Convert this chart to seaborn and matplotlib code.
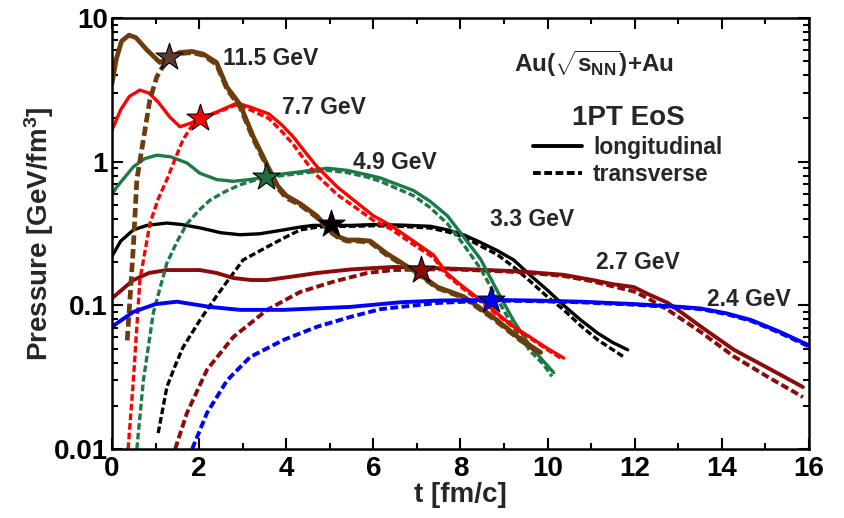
import matplotlib
matplotlib.use("Agg")
import numpy as np
import pandas as pd
import seaborn as sns
import matplotlib.pyplot as plt
from matplotlib.lines import Line2D
from matplotlib.ticker import MultipleLocator, LogLocator, FixedLocator, FixedFormatter, NullFormatter

# ---------------- data ----------------
# 11.5 GeV
t_115_L = [0, 0.1, 0.22, 0.39, 0.55, 0.8, 1.1, 1.31, 1.55, 1.84, 2.1, 2.4, 2.64, 2.94, 3.24, 3.56, 3.8, 4.0,
           4.32, 4.7, 5.01, 5.2, 5.4, 5.65, 5.93, 6.3, 6.62, 7.08, 7.47, 8.07, 8.7, 9.38, 9.84]
p_115_L = [3.5, 5.2, 6.9, 7.6, 7.3, 6.0, 4.9, 5.3, 5.75, 5.85, 5.6, 4.9, 3.3, 2.5, 1.5, 0.95, 0.68, 0.58,
           0.51, 0.42, 0.33, 0.3, 0.285, 0.285, 0.28, 0.23, 0.2, 0.163, 0.134, 0.115, 0.085, 0.058, 0.047]
t_115_T = [0.35, 0.49, 0.57, 0.72, 0.87, 1.03, 1.15, 1.31, 1.55, 1.84, 2.1, 2.4, 2.64, 2.94, 3.24, 3.56, 3.8,
           4.0, 4.32, 4.7, 5.01, 5.2, 5.4, 5.65, 5.93, 6.3, 6.62, 7.08, 7.47, 8.07, 8.7, 9.38, 9.84]
p_115_T = [0.057, 0.255, 0.75, 1.42, 2.7, 3.9, 4.5, 5.2, 5.65, 5.75, 5.5, 4.75, 3.2, 2.4, 1.45, 0.92, 0.66,
           0.56, 0.5, 0.41, 0.325, 0.295, 0.28, 0.28, 0.275, 0.225, 0.196, 0.16, 0.132, 0.113, 0.083, 0.057, 0.046]
# 7.7 GeV
t_77_L = [0, 0.2, 0.4, 0.64, 0.85, 1.06, 1.33, 1.56, 1.8, 2.02, 2.41, 2.87, 3.17, 3.6, 3.9, 4.16, 4.45, 4.71,
          5.17, 5.63, 6.0, 6.4, 6.92, 7.38, 7.68, 8.07, 8.46, 8.8, 9.22, 9.6, 10.0, 10.37]
p_77_L = [1.66, 2.3, 2.85, 3.15, 3.0, 2.6, 2.04, 1.75, 1.85, 2.0, 2.22, 2.56, 2.4, 2.15, 1.8, 1.49, 1.15, 0.92,
          0.667, 0.516, 0.42, 0.36, 0.28, 0.224, 0.168, 0.134, 0.109, 0.09, 0.071, 0.06, 0.05, 0.043]
t_77_T = [0.37, 0.49, 0.64, 0.87, 1.06, 1.26, 1.45, 1.63, 1.82, 2.02, 2.41, 2.87, 3.17, 3.6, 3.9, 4.16, 4.45,
          4.71, 5.17, 5.63, 6.0, 6.4, 6.92, 7.38, 7.68, 8.07, 8.46, 8.8, 9.22, 9.6, 10.0, 10.3]
p_77_T = [0.01, 0.03, 0.15, 0.37, 0.55, 0.75, 1.05, 1.42, 1.75, 2.0, 2.2, 2.5, 2.3, 2.0, 1.62, 1.32, 1.0,
          0.8, 0.59, 0.47, 0.39, 0.34, 0.265, 0.215, 0.163, 0.13, 0.106, 0.088, 0.07, 0.059, 0.049, 0.043]
# 4.9 GeV
t_49_L = [0, 0.11, 0.49, 0.75, 1.03, 1.35, 1.72, 2.02, 2.41, 2.78, 3.15, 3.54, 3.9, 4.32, 4.94, 5.4, 5.86,
          6.16, 6.92, 7.3, 7.7, 8.07, 8.46, 8.85, 9.22, 9.6, 9.9, 10.14]
p_49_L = [0.59, 0.667, 0.92, 1.05, 1.11, 1.08, 0.98, 0.83, 0.75, 0.73, 0.75, 0.78, 0.82, 0.85, 0.9, 0.87, 0.81,
          0.77, 0.63, 0.53, 0.42, 0.3, 0.21, 0.125, 0.078, 0.052, 0.041, 0.034]
t_49_T = [0.57, 0.72, 0.95, 1.26, 1.5, 1.72, 2.0, 2.25, 2.6, 2.94, 3.25, 3.54, 3.9, 4.32, 4.94, 5.4, 5.86,
          6.16, 6.92, 7.3, 7.7, 8.07, 8.46, 8.85, 9.22, 9.6, 9.9, 10.1]
p_49_T = [0.01, 0.03, 0.089, 0.197, 0.28, 0.37, 0.46, 0.54, 0.62, 0.69, 0.74, 0.77, 0.8, 0.83, 0.87, 0.84,
          0.78, 0.73, 0.58, 0.48, 0.37, 0.265, 0.18, 0.11, 0.07, 0.048, 0.039, 0.032]
# 3.3 GeV
t_33_L = [0, 0.2, 0.49, 0.8, 1.26, 1.6, 2.02, 2.5, 2.94, 3.4, 3.94, 4.3, 4.62, 5.0, 5.5, 6.0, 6.62, 7.31,
          7.7, 8.07, 8.45, 8.85, 9.22, 9.6, 9.99, 10.37, 10.76, 11.15, 11.5, 11.84]
p_33_L = [0.22, 0.28, 0.335, 0.36, 0.374, 0.365, 0.346, 0.32, 0.31, 0.315, 0.335, 0.35, 0.36, 0.36, 0.36,
          0.365, 0.362, 0.355, 0.335, 0.31, 0.275, 0.24, 0.207, 0.162, 0.128, 0.1, 0.079, 0.064, 0.055, 0.049]
t_33_T = [1.06, 1.26, 1.45, 1.63, 2.02, 2.3, 2.55, 3.01, 3.56, 4.0, 4.32, 4.7, 5.0, 5.5, 6.0, 6.62, 7.31,
          7.7, 8.07, 8.45, 8.85, 9.22, 9.6, 9.99, 10.37, 10.76, 11.15, 11.5, 11.75]
p_33_T = [0.0129, 0.027, 0.038, 0.051, 0.079, 0.105, 0.134, 0.207, 0.255, 0.3, 0.335, 0.35, 0.355, 0.355,
          0.358, 0.355, 0.345, 0.325, 0.3, 0.26, 0.225, 0.185, 0.147, 0.115, 0.093, 0.072, 0.0575, 0.049, 0.0437]
# 2.7 GeV
t_27_L = [0, 0.49, 0.85, 1.26, 2.02, 2.4, 2.78, 3.2, 3.56, 4.1, 4.71, 5.5, 6.46, 7.1, 7.8, 8.46, 9.4, 10.37,
          11.03, 11.52, 11.98, 12.3, 12.76, 13.1, 13.52, 14.28, 15.06, 15.86]
p_27_L = [0.112, 0.15, 0.168, 0.176, 0.176, 0.168, 0.155, 0.15, 0.15, 0.158, 0.168, 0.178, 0.185, 0.183,
          0.18, 0.177, 0.172, 0.163, 0.15, 0.14, 0.134, 0.12, 0.104, 0.088, 0.071, 0.049, 0.0366, 0.027]
t_27_T = [1.45, 1.72, 2.18, 2.78, 3.56, 4.32, 5.08, 5.86, 6.46, 7.1, 7.8, 8.46, 9.4, 10.37, 11.03, 11.52,
          11.98, 12.3, 12.76, 13.52, 14.28, 15.06, 15.86]
p_27_T = [0.01, 0.0178, 0.0356, 0.06, 0.093, 0.124, 0.146, 0.168, 0.176, 0.178, 0.178, 0.175, 0.17, 0.16,
          0.147, 0.135, 0.125, 0.112, 0.093, 0.065, 0.044, 0.0317, 0.023]
# 2.4 GeV
t_24_L = [0, 0.49, 1.0, 1.49, 2.25, 2.94, 3.94, 5.47, 6.62, 7.5, 8.69, 9.7, 10.76, 12.0, 13.06, 13.52, 14.1,
          14.67, 15.3, 15.98]
p_24_L = [0.071, 0.09, 0.102, 0.106, 0.0975, 0.093, 0.093, 0.0975, 0.105, 0.108, 0.109, 0.108, 0.106, 0.102,
          0.0975, 0.095, 0.088, 0.079, 0.066, 0.053]
t_24_T = [1.84, 2.18, 2.64, 3.17, 3.94, 4.71, 5.47, 6.16, 6.62, 7.5, 8.69, 9.7, 10.76, 12.0, 13.06, 13.52,
          14.1, 14.67, 15.3, 15.98]
p_24_T = [0.01, 0.0178, 0.030, 0.0437, 0.0575, 0.071, 0.083, 0.094, 0.0975, 0.104, 0.108, 0.107, 0.105,
          0.101, 0.0965, 0.094, 0.087, 0.078, 0.065, 0.052]

energies = ["11.5 GeV", "7.7 GeV", "4.9 GeV", "3.3 GeV", "2.7 GeV", "2.4 GeV"]
star_t = [1.31, 2.02, 3.54, 5.03, 7.1, 8.69]
star_p = [5.35, 2.01, 0.78, 0.37, 0.176, 0.109]

x_ticks = [0, 2, 4, 6, 8, 10, 12, 14, 16]
y_ticks = [0.01, 0.1, 1, 10]
y_tick_labels = ["0.01", "0.1", "1", "10"]

# ---------------- style ----------------
sns.set_style("ticks")
plt.rcParams["font.family"] = ["Liberation Sans", "DejaVu Sans"]
plt.rcParams["font.weight"] = "bold"
plt.rcParams["mathtext.fontset"] = "custom"
plt.rcParams["mathtext.rm"] = "Liberation Sans:bold"
plt.rcParams["mathtext.it"] = "Liberation Sans:bold"
plt.rcParams["mathtext.bf"] = "Liberation Sans:bold"

colors = {"11.5 GeV": "#6b3c0c", "7.7 GeV": "#ff0000", "4.9 GeV": "#1b7a46",
          "3.3 GeV": "#000000", "2.7 GeV": "#8c0a0a", "2.4 GeV": "#0000ff"}
star_colors = ["#5e3a33", "#ff0000", "#1d6e3e", "#000000", "#8c0a0a", "#0000ff"]
widths = {"11.5 GeV": 3.4, "7.7 GeV": 2.4, "4.9 GeV": 2.4, "3.3 GeV": 2.4, "2.7 GeV": 2.8, "2.4 GeV": 2.8}

series = {
    "11.5 GeV": (t_115_L, p_115_L, t_115_T, p_115_T),
    "7.7 GeV": (t_77_L, p_77_L, t_77_T, p_77_T),
    "4.9 GeV": (t_49_L, p_49_L, t_49_T, p_49_T),
    "3.3 GeV": (t_33_L, p_33_L, t_33_T, p_33_T),
    "2.7 GeV": (t_27_L, p_27_L, t_27_T, p_27_T),
    "2.4 GeV": (t_24_L, p_24_L, t_24_T, p_24_T),
}

fig = plt.figure(figsize=(8.45, 5.18), dpi=100)
ax = fig.add_axes([112 / 845, 69 / 518, 697 / 845, 431 / 518])

draw_order = ["3.3 GeV", "2.7 GeV", "4.9 GeV", "7.7 GeV", "11.5 GeV", "2.4 GeV"]
for e in draw_order:
    tL, pL, tT, pT = series[e]
    dfL = pd.DataFrame({"t": tL, "p": pL})
    dfT = pd.DataFrame({"t": tT, "p": pT})
    sns.lineplot(data=dfT, x="t", y="p", ax=ax, color=colors[e], lw=widths[e],
                 linestyle=(0, (2.0, 0.9)), estimator=None, sort=False)
    sns.lineplot(data=dfL, x="t", y="p", ax=ax, color=colors[e], lw=widths[e],
                 estimator=None, sort=False)

for i, e in enumerate(energies):
    sns.scatterplot(x=[star_t[i]], y=[star_p[i]], ax=ax, marker="*", s=420,
                    color=star_colors[i], edgecolor="black", linewidth=0.8, zorder=6)

ax.set_yscale("log")
ax.set_xlim(0, 16)
ax.set_ylim(0.01, 10)

ax.xaxis.set_major_locator(FixedLocator(x_ticks))
ax.xaxis.set_minor_locator(MultipleLocator(1))
ax.yaxis.set_major_locator(FixedLocator(y_ticks))
ax.yaxis.set_major_formatter(FixedFormatter(y_tick_labels))
ax.yaxis.set_minor_locator(LogLocator(base=10, subs=np.arange(2, 10)))
ax.yaxis.set_minor_formatter(NullFormatter())

ax.tick_params(which="both", direction="in", top=True, right=True, width=1.5, colors="black",
               labelsize=20)
ax.tick_params(which="major", length=8)
ax.tick_params(axis="x", which="major", pad=5)
ax.tick_params(axis="y", which="major", pad=3)
ax.tick_params(which="minor", length=4.5)
for lab in ax.get_xticklabels() + ax.get_yticklabels():
    lab.set_fontweight("bold")
for sp in ax.spines.values():
    sp.set_linewidth(1.8)
    sp.set_color("black")

ax.set_xlabel("t [fm/c]", fontsize=20, fontweight="bold", labelpad=0)
ax.set_ylabel("Pressure [GeV/fm$^3$]", fontsize=20, fontweight="bold", labelpad=-2)

# energy labels
lab_pos = {"11.5 GeV": (2.55, 5.25), "7.7 GeV": (3.9, 2.37), "4.9 GeV": (5.53, 0.98),
           "3.3 GeV": (8.67, 0.393), "2.7 GeV": (11.12, 0.2), "2.4 GeV": (13.65, 0.109)}
for e in energies:
    x, y = lab_pos[e]
    ax.text(x, y, e, fontsize=16.5, fontweight="bold", ha="left", va="center")

ax.text(0.577, 0.894, r"Au($\sqrt{s_{NN}}$)+Au", transform=ax.transAxes, fontsize=17.5,
        fontweight="bold", ha="left", va="center")

handles = [Line2D([], [], color="black", lw=2.8),
           Line2D([], [], color="black", lw=2.8, linestyle=(0, (2.0, 0.9)))]
leg = ax.legend(handles, ["longitudinal", "transverse"], loc="upper left",
                bbox_to_anchor=(0.585, 0.83), frameon=False, fontsize=16.5,
                handlelength=2.1, handletextpad=0.5, labelspacing=0.2, borderpad=0.1,
                title="1PT EoS", title_fontproperties={"size": 20, "weight": "bold"})
leg._legend_box.align = "center"

fig.savefig("out.png", dpi=100, facecolor="white")
